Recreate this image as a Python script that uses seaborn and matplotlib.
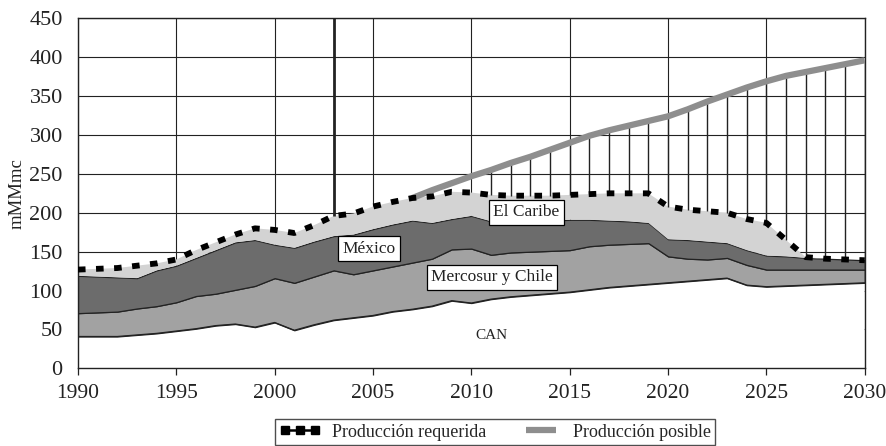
import matplotlib
matplotlib.use("Agg")
import matplotlib.pyplot as plt
from matplotlib.lines import Line2D
import numpy as np
import pandas as pd
import seaborn as sns

# Annual series, 1990-2030 (mMMmc)
years = list(range(1990, 2031))

can = [41, 41, 41, 43, 45, 48, 51, 55, 57, 53, 59, 49, 56, 62, 65, 68, 73, 76, 80, 87,
       84, 89, 92, 94, 96, 98, 101, 104, 106, 108, 110, 112, 114, 116, 107, 105, 106,
       107, 108, 109, 110]
mercosur = [30, 31, 32, 34, 35, 37, 42, 41, 44, 53, 57, 61, 62, 64, 56, 58, 58, 60, 61,
            66, 70, 57, 57, 56, 55, 54, 56, 55, 54, 53, 34, 29, 26, 26, 26, 22, 21, 20,
            19, 18, 17]
mexico = [48, 46, 44, 39, 46, 47, 49, 56, 61, 59, 43, 45, 45, 44, 51, 53, 54, 54, 46, 39,
          42, 43, 40, 40, 39, 39, 34, 31, 29, 26, 22, 24, 23, 19, 19, 18, 17, 15, 14, 13,
          12]
caribe = [8, 10, 12, 16, 9, 8, 10, 10, 10, 15, 19, 19, 21, 26, 27, 29, 29, 29, 34, 35,
          30, 34, 33, 32, 32, 32, 33, 35, 36, 38, 42, 39, 39, 39, 40, 42, 21, 1, 0, 0, 0]

requerida = [127, 128, 129, 132, 135, 140, 152, 162, 172, 180, 178, 174, 184, 196, 199,
             208, 214, 219, 221, 227, 226, 223, 222, 222, 222, 223, 224, 225, 225, 225,
             208, 204, 202, 200, 192, 187, 165, 143, 141, 140, 139]

years_posible = list(range(2007, 2031))
posible = [219, 229, 238, 247, 255, 264, 272, 281, 290, 299, 306, 312, 318, 324, 333,
           343, 352, 361, 369, 376, 381, 386, 391, 396]

hatch_years = list(range(2011, 2031))
corte_year = 2003

x_ticks = list(range(1990, 2031, 5))
y_ticks = list(range(0, 451, 50))

sns.set_theme(style="white")
plt.rcParams["font.family"] = ["Liberation Serif", "DejaVu Serif"]

fig = plt.figure(figsize=(8.86, 4.46), dpi=100)
ax = fig.add_axes([0.088, 0.174, 0.888, 0.785])

df_req = pd.DataFrame({"year": years, "value": requerida})
df_pos = pd.DataFrame({"year": years_posible, "value": posible})

# Regional production areas
polys = ax.stackplot(years, can, mercosur, mexico, caribe,
                     colors=["white", "#a2a2a2", "#6c6c6c", "#d3d3d3"],
                     linewidth=0.9, edgecolor="#222222", zorder=2)
polys[3].set_edgecolor("none")
polys[0].set_edgecolor("none")
ax.plot(years, can, color="#222222", lw=0.9, zorder=2.5)

# Gap between possible and required production
req_by_year = dict(zip(years, requerida))
pos_by_year = dict(zip(years_posible, posible))
ax.vlines(hatch_years, [req_by_year[y] for y in hatch_years],
          [pos_by_year[y] for y in hatch_years], color="#222222", lw=1.0, zorder=2.6)
ax.vlines([corte_year], [req_by_year[corte_year]], [450], color="#222222", lw=2.0,
          zorder=2.6)

sns.lineplot(data=df_pos, x="year", y="value", ax=ax, color="#8e8e8e", lw=4.5,
             legend=False, zorder=3, solid_capstyle="butt")
sns.lineplot(data=df_req, x="year", y="value", ax=ax, color="black", lw=4.2,
             linestyle=(0, (1.3, 1.8)), legend=False, zorder=4)

# Region labels
box = dict(boxstyle="square,pad=0.25", fc="white", ec="black", lw=0.9)
ax.text(2012.8, 200.5, "El Caribe", ha="center", va="center", fontsize=12.5,
        bbox=box, zorder=5, color="#222222")
ax.text(2004.8, 154, "México", ha="center", va="center", fontsize=12.5,
        bbox=box, zorder=5, color="#222222")
ax.text(2011.05, 117, "Mercosur y Chile", ha="center", va="center", fontsize=12.5,
        bbox=box, zorder=5, color="#222222")
ax.text(2011, 42, "CAN", ha="center", va="center", fontsize=11, zorder=5,
        color="#222222")

ax.set_xlim(1990, 2030)
ax.set_ylim(0, 450)
ax.set_xticks(x_ticks)
ax.set_yticks(y_ticks)
ax.set_xticklabels([str(t) for t in x_ticks], fontsize=15.5, color="#222222")
ax.set_yticklabels([str(t) for t in y_ticks], fontsize=16, color="#222222")
ax.set_xlabel("")
ax.set_ylabel("mMMmc", fontsize=13.5, color="#222222")
ax.yaxis.set_label_coords(-0.066, 0.5)

ax.set_axisbelow(True)
ax.grid(True, color="#222222", lw=0.8)
ax.tick_params(axis="x", which="major", bottom=True, length=5, width=0.9,
               direction="out", pad=6, colors="#222222")
ax.tick_params(axis="y", which="major", left=False, length=0, pad=11)
for s in ax.spines.values():
    s.set_visible(True)
    s.set_color("#222222")
    s.set_linewidth(1.0)

handles = [
    Line2D([0], [0], color="black", lw=1.8, marker="s", markersize=5.5),
    Line2D([0], [0], color="#8e8e8e", lw=4.5, solid_capstyle="butt"),
]
leg = fig.legend(handles, ["Producción requerida", "Producción posible"],
                 loc="upper center", bbox_to_anchor=(495 / 886, 1 - 419 / 446),
                 borderaxespad=0, ncol=2, frameon=True, fancybox=False,
                 fontsize=13, handlelength=2.3, numpoints=3, columnspacing=1.9,
                 borderpad=0.25, handletextpad=0.6)
leg.get_frame().set_edgecolor("#222222")
leg.get_frame().set_linewidth(1.0)

fig.savefig("out.png", dpi=100)
